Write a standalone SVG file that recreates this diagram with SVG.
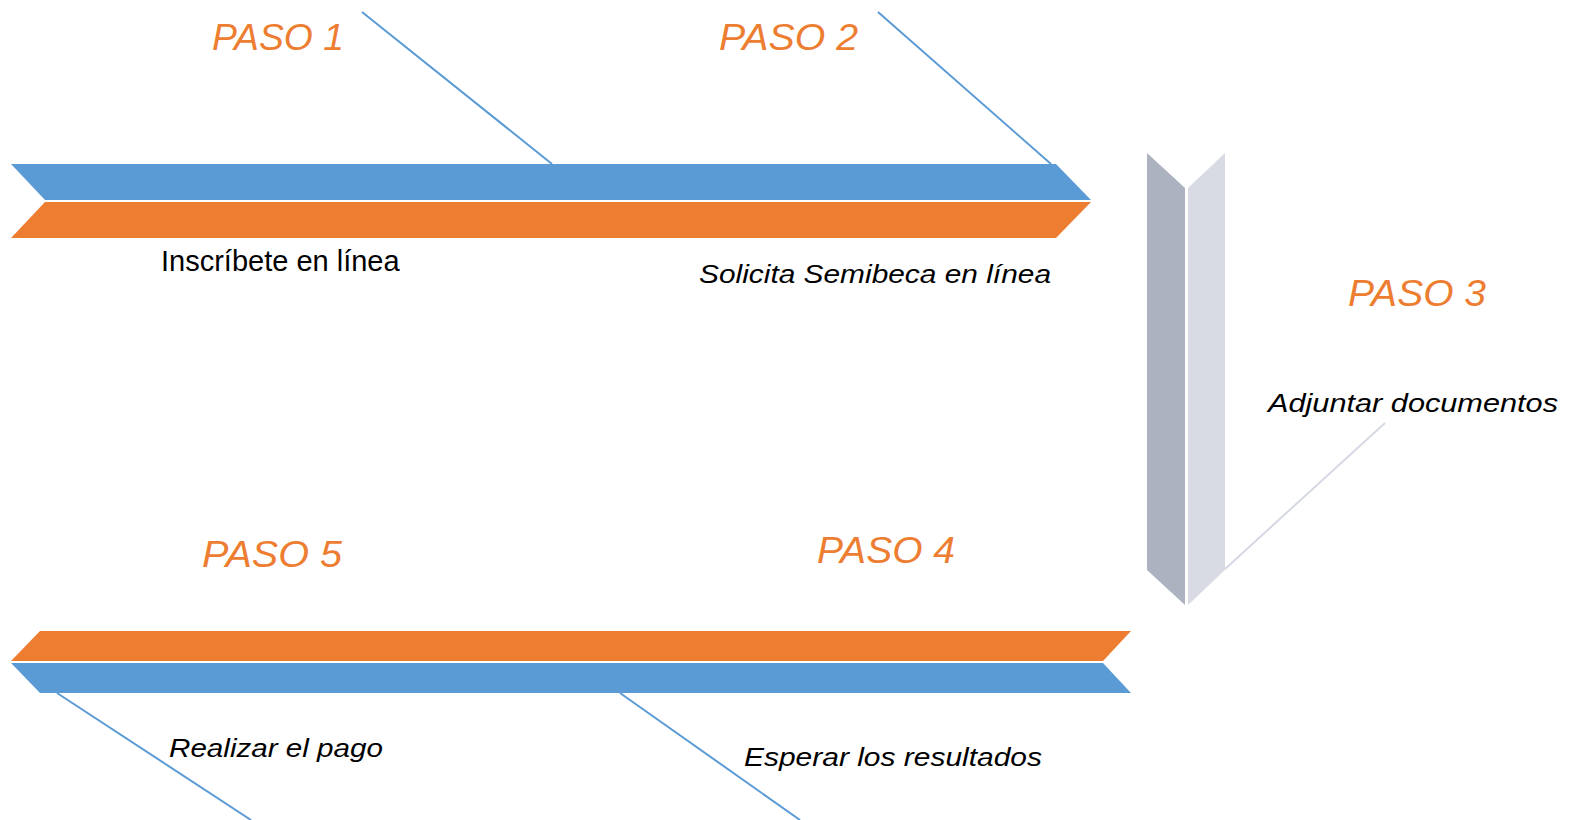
<svg xmlns="http://www.w3.org/2000/svg" width="1577" height="820" viewBox="0 0 1577 820">
<style>
.blue{fill:#5B9BD5}
.orange{fill:#ED7D31}
.conn{stroke:#5B9BD5;stroke-width:2;fill:none}
.step{font-family:"Liberation Sans",Arial,sans-serif;font-style:italic;font-size:37px;fill:#ED7D31}
.hand{font-family:"Liberation Sans",Arial,sans-serif;font-style:italic;font-size:25px;fill:#000}
.plain{font-family:"Liberation Sans",Arial,sans-serif;font-size:29px;fill:#000}
</style>
<rect width="1577" height="820" fill="#fff"/>
<g id="connectors">
<line class="conn" x1="362" y1="12" x2="552" y2="164"/>
<line class="conn" x1="878" y1="12" x2="1051" y2="164"/>
<line class="conn" x1="57" y1="693" x2="251" y2="820"/>
<line class="conn" x1="620" y1="693" x2="800" y2="820"/>
<line x1="1385" y1="423" x2="1225" y2="569" stroke="#D6D9E3" stroke-width="2"/>
</g>
<g id="top-arrow">
<polygon class="blue" points="11,164 1056,164 1091,200 45,200"/>
<polygon class="orange" points="45,202 1091,202 1056,238 11,238"/>
</g>
<g id="side-arrow">
<polygon fill="#ADB2C1" points="1147,153 1185,188 1185,605 1147,570"/>
<polygon fill="#D8DBE4" points="1188,188 1225,153 1225,570 1188,605"/>
</g>
<g id="bottom-arrow">
<polygon class="orange" points="40,631 1131,631 1103,661 11,661"/>
<polygon class="blue" points="11,663 1103,663 1131,693 40,693"/>
</g>
<g id="paso1">
<text class="step" x="212" y="50" textLength="132" lengthAdjust="spacingAndGlyphs">PASO 1</text>
<text class="plain" x="161" y="271">Inscríbete en línea</text>
</g>
<g id="paso2">
<text class="step" x="719" y="50" textLength="139" lengthAdjust="spacingAndGlyphs">PASO 2</text>
<text class="hand" x="699" y="283" textLength="352" lengthAdjust="spacingAndGlyphs">Solicita Semibeca en línea</text>
</g>
<g id="paso3">
<text class="step" x="1348" y="306" textLength="138" lengthAdjust="spacingAndGlyphs">PASO 3</text>
<text class="hand" x="1268" y="412" textLength="290" lengthAdjust="spacingAndGlyphs">Adjuntar documentos</text>
</g>
<g id="paso4">
<text class="step" x="817" y="563" textLength="138" lengthAdjust="spacingAndGlyphs">PASO 4</text>
<text class="hand" x="744" y="766" textLength="298" lengthAdjust="spacingAndGlyphs">Esperar los resultados</text>
</g>
<g id="paso5">
<text class="step" x="202" y="567" textLength="140" lengthAdjust="spacingAndGlyphs">PASO 5</text>
<text class="hand" x="169" y="757" textLength="214" lengthAdjust="spacingAndGlyphs">Realizar el pago</text>
</g>
</svg>
